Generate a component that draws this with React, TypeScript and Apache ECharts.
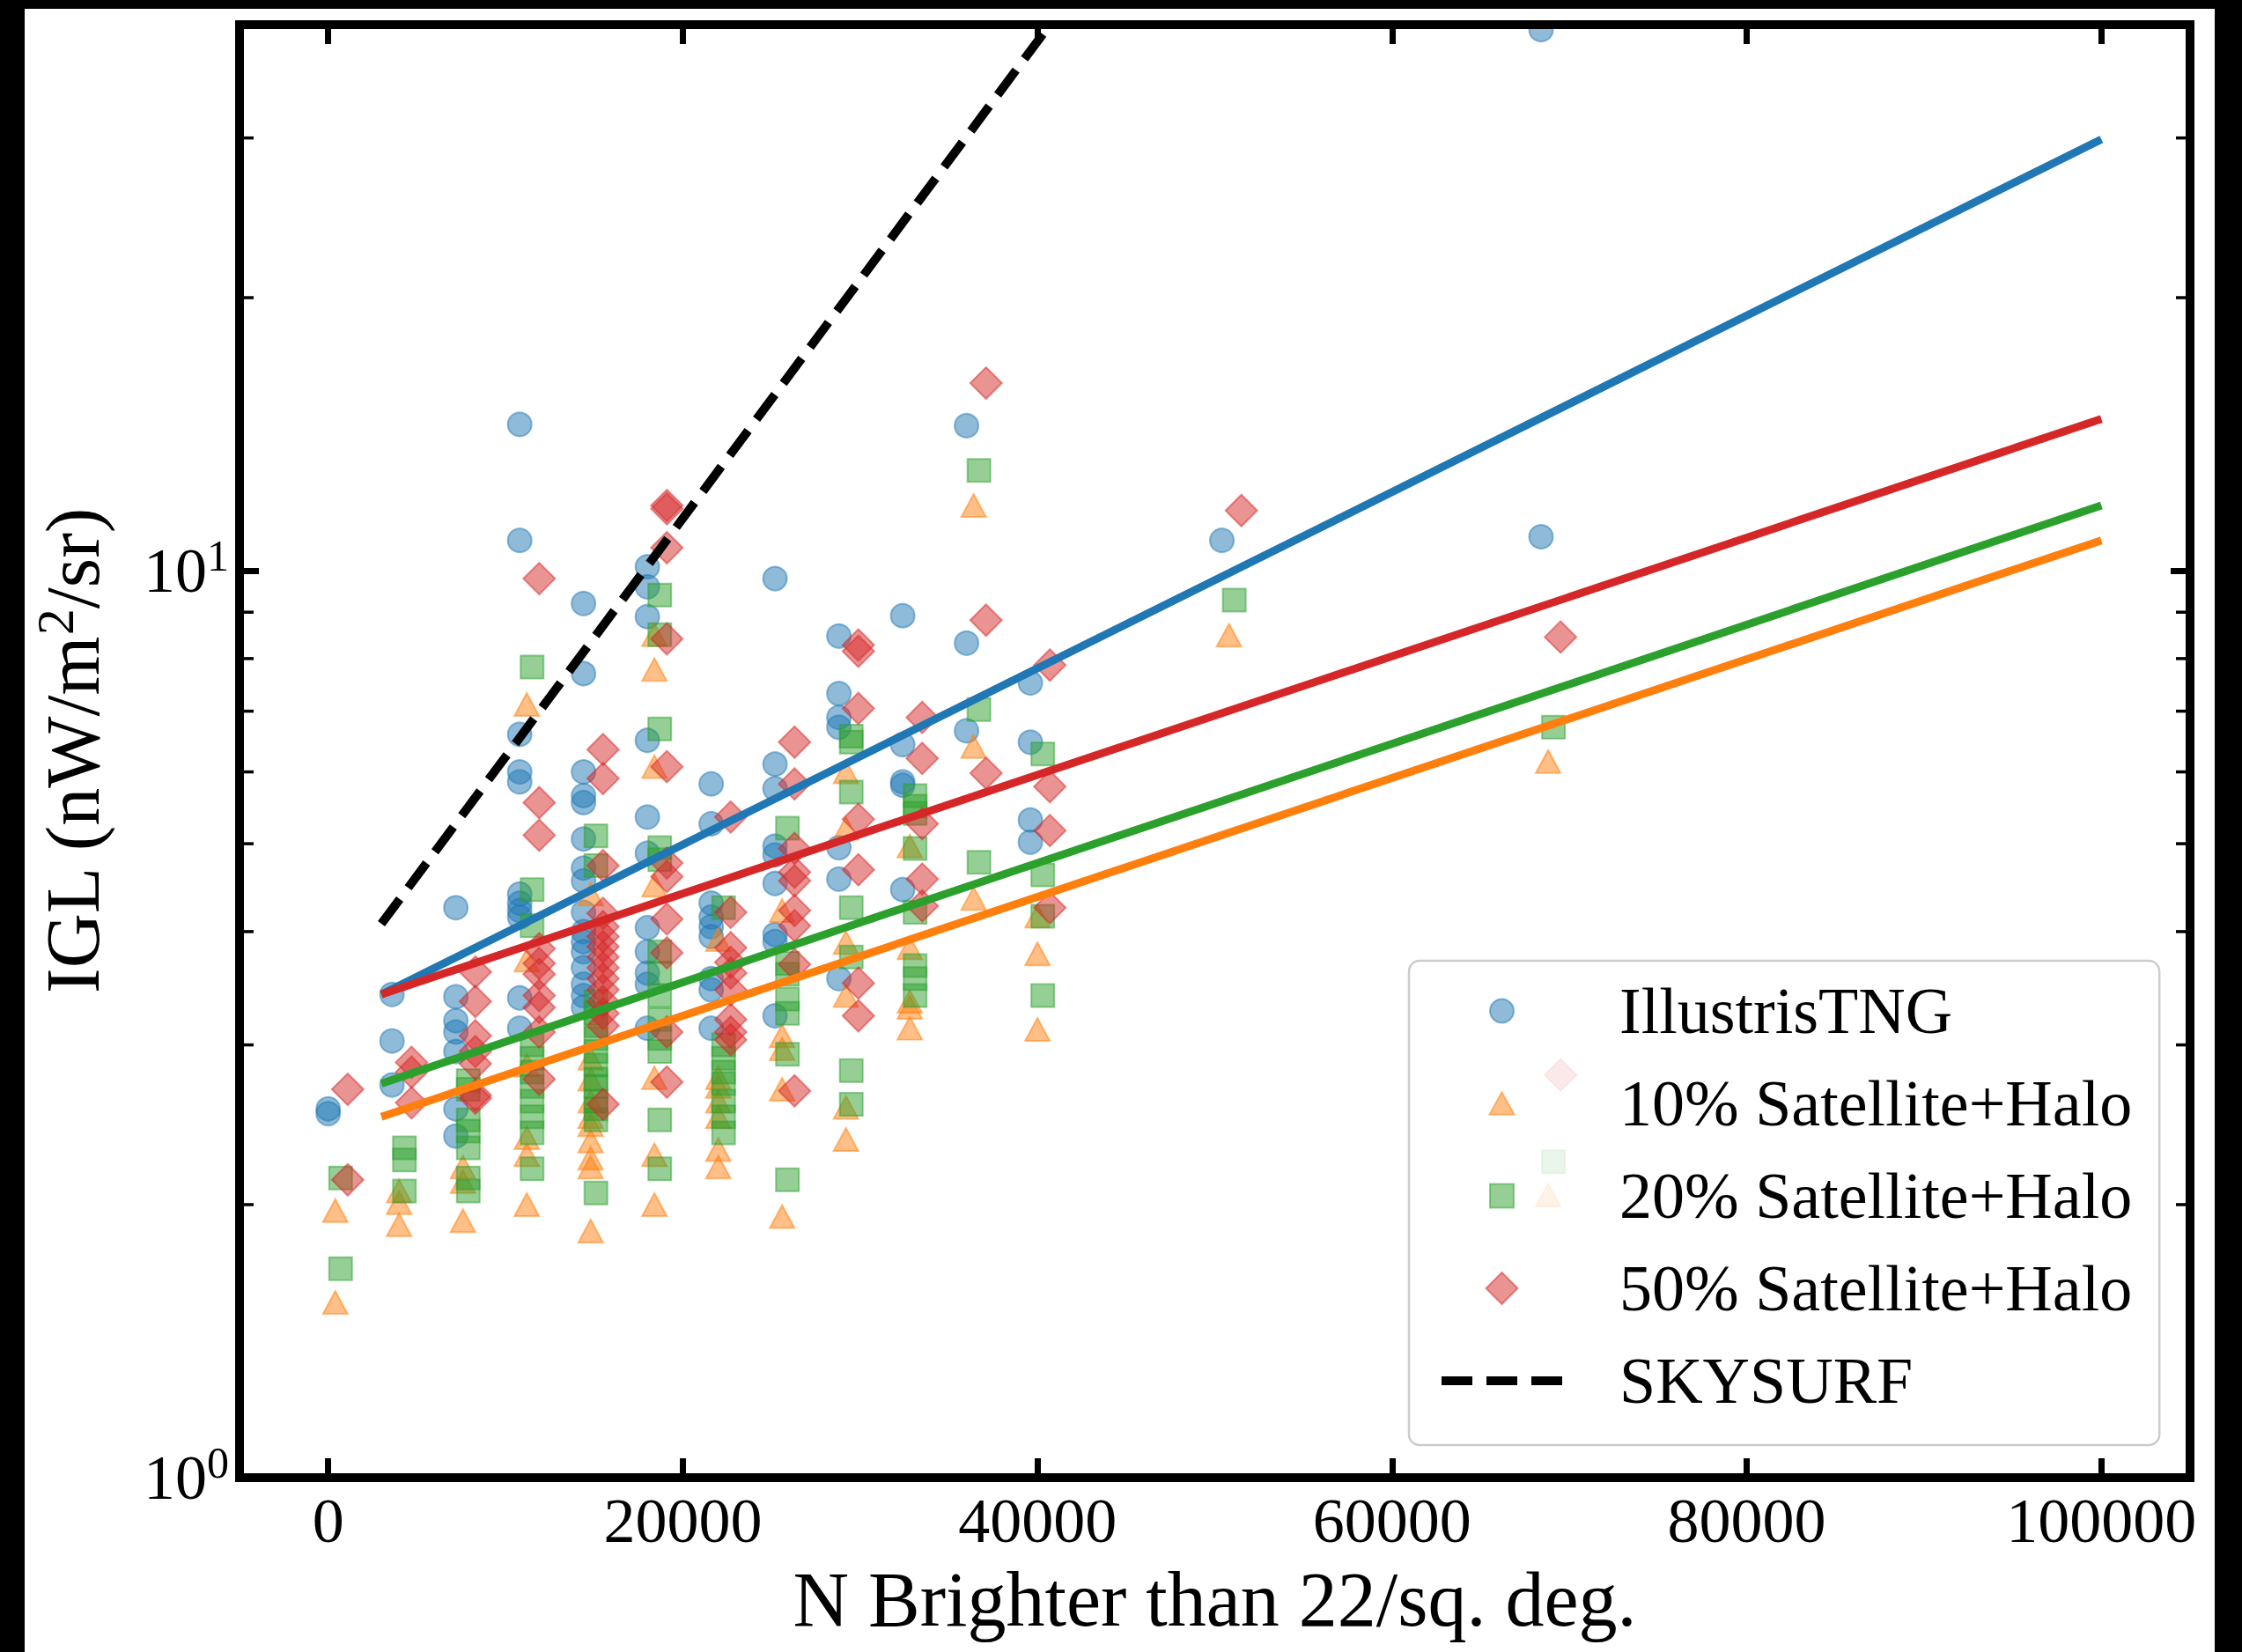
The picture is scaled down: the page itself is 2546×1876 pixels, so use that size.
import React, { useEffect, useRef } from 'react';
import * as echarts from 'echarts';

const FONT = "'Liberation Serif', 'Times New Roman', 'DejaVu Serif', serif";

// axis ranges and ticks
const xRange = [-5000, 105000];
const yRange = [1, 40];
const xTickStep = 20000;
const yMinorTicks = [2, 3, 4, 5, 6, 7, 8, 9, 20, 30];

const legendNames = ['IllustrisTNG', '10% Satellite+Halo', '20% Satellite+Halo', '50% Satellite+Halo', 'SKYSURF'];

// scatter data [N per sq. deg., IGL]
const illustrisTNG = [
  [0, 2.55], [0, 2.52],
  [3600, 3.41], [3600, 3.03], [3600, 2.71],
  [7200, 4.25], [7200, 3.39], [7200, 3.19], [7200, 3.1], [7200, 2.95], [7200, 2.55], [7200, 2.38],
  [10800, 14.5], [10800, 10.8], [10800, 6.6], [10800, 6.0], [10800, 5.85], [10800, 4.4], [10800, 4.3], [10800, 4.22], [10800, 4.15], [10800, 3.38], [10800, 3.13],
  [14400, 9.2], [14400, 7.7], [14400, 6.0], [14400, 5.65], [14400, 5.55], [14400, 5.06], [14400, 4.7], [14400, 4.55], [14400, 4.2], [14400, 4.0], [14400, 3.9], [14400, 3.8], [14400, 3.65], [14400, 3.5], [14400, 3.4], [14400, 3.3],
  [18000, 10.1], [18000, 9.6], [18000, 8.9], [18000, 6.5], [18000, 5.35], [18000, 4.88], [18000, 4.04], [18000, 3.8], [18000, 3.6], [18000, 3.5], [18000, 3.13],
  [21600, 5.82], [21600, 5.26], [21600, 4.3], [21600, 4.15], [21600, 4.05], [21600, 3.95], [21600, 3.55], [21600, 3.45], [21600, 3.13],
  [25200, 9.8], [25200, 6.12], [25200, 5.75], [25200, 4.97], [25200, 4.86], [25200, 4.52], [25200, 3.97], [25200, 3.9], [25200, 3.23],
  [28800, 8.47], [28800, 7.32], [28800, 6.89], [28800, 6.72], [28800, 4.95], [28800, 4.57], [28800, 3.55],
  [32400, 8.92], [32400, 6.43], [32400, 5.85], [32400, 5.8], [32400, 4.45],
  [36000, 14.45], [36000, 8.32], [36000, 6.66],
  [39600, 7.52], [39600, 6.47], [39600, 5.31], [39600, 5.02],
  [50400, 10.8],
  [68400, 10.9], [68400, 39.5],
];

const sat10 = [
  [400, 1.97], [400, 1.56],
  [4000, 2.07], [4000, 2.01], [4000, 1.9],
  [7600, 2.2], [7600, 2.12], [7600, 1.92],
  [11200, 7.12], [11200, 3.72], [11200, 2.85], [11200, 2.37], [11200, 2.27], [11200, 2.0],
  [14800, 4.4], [14800, 2.9], [14800, 2.75], [14800, 2.6], [14800, 2.5], [14800, 2.45], [14800, 2.35], [14800, 2.25], [14800, 2.2], [14800, 1.87],
  [18400, 8.5], [18400, 7.78], [18400, 6.08], [18400, 4.5], [18400, 2.76], [18400, 2.27], [18400, 2.0],
  [22000, 3.92], [22000, 2.76], [22000, 2.7], [22000, 2.6], [22000, 2.5], [22000, 2.3], [22000, 2.2],
  [25600, 4.22], [25600, 3.07], [25600, 2.97], [25600, 2.68], [25600, 1.94],
  [29200, 6.0], [29200, 5.2], [29200, 3.89], [29200, 3.4], [29200, 2.56], [29200, 2.36],
  [32800, 4.97], [32800, 3.84], [32800, 3.35], [32800, 3.3], [32800, 3.13],
  [36400, 11.8], [36400, 6.4], [36400, 4.35],
  [40000, 4.16], [40000, 3.78], [40000, 3.12],
  [50800, 8.49],
  [68800, 6.16], [68800, 2.05],
];

const sat20 = [
  [700, 2.14], [700, 1.7],
  [4300, 2.31], [4300, 2.24], [4300, 2.07],
  [7900, 2.74], [7900, 2.68], [7900, 2.48], [7900, 2.41], [7900, 2.31], [7900, 2.14], [7900, 2.07],
  [11500, 7.83], [11500, 4.45], [11500, 4.06], [11500, 3.0], [11500, 2.9], [11500, 2.8], [11500, 2.7], [11500, 2.6], [11500, 2.5], [11500, 2.4], [11500, 2.19],
  [15100, 5.1], [15100, 4.73], [15100, 3.35], [15100, 3.25], [15100, 3.15], [15100, 3.05], [15100, 2.95], [15100, 2.85], [15100, 2.75], [15100, 2.7], [15100, 2.6], [15100, 2.55], [15100, 2.48], [15100, 2.06],
  [18700, 9.4], [18700, 8.5], [18700, 6.69], [18700, 4.95], [18700, 4.8], [18700, 3.8], [18700, 3.6], [18700, 3.4], [18700, 3.2], [18700, 3.05], [18700, 2.95], [18700, 2.48], [18700, 2.19],
  [22300, 4.25], [22300, 3.0], [22300, 2.9], [22300, 2.8], [22300, 2.72], [22300, 2.6], [22300, 2.5], [22300, 2.4],
  [25900, 5.2], [25900, 3.69], [25900, 3.59], [25900, 3.37], [25900, 3.25], [25900, 2.93], [25900, 2.13],
  [29500, 6.57], [29500, 6.47], [29500, 5.7], [29500, 4.25], [29500, 3.75], [29500, 2.81], [29500, 2.58],
  [33100, 5.65], [33100, 5.5], [33100, 5.4], [33100, 4.94], [33100, 4.2], [33100, 3.67], [33100, 3.55], [33100, 3.4],
  [36700, 12.9], [36700, 7.03], [36700, 4.77],
  [40300, 6.28], [40300, 4.62], [40300, 4.16], [40300, 3.4],
  [51100, 9.28],
  [69100, 6.72], [69100, 2.23],
];

const sat50 = [
  [1100, 2.68], [1100, 2.13],
  [4700, 2.87], [4700, 2.8], [4700, 2.59],
  [8300, 3.61], [8300, 3.35], [8300, 3.07], [8300, 2.95], [8300, 2.86], [8300, 2.64], [8300, 2.62],
  [11900, 9.8], [11900, 5.55], [11900, 5.11], [11900, 3.83], [11900, 3.69], [11900, 3.59], [11900, 3.4], [11900, 3.3], [11900, 3.1], [11900, 2.75],
  [15500, 6.35], [15500, 5.9], [15500, 4.73], [15500, 4.19], [15500, 4.05], [15500, 3.95], [15500, 3.85], [15500, 3.75], [15500, 3.65], [15500, 3.55], [15500, 3.45], [15500, 3.35], [15500, 3.25], [15500, 3.15], [15500, 2.58],
  [19100, 11.8], [19100, 11.7], [19100, 10.6], [19100, 8.41], [19100, 6.08], [19100, 4.76], [19100, 4.6], [19100, 4.13], [19100, 3.79], [19100, 3.1], [19100, 2.73],
  [22700, 5.35], [22700, 4.2], [22700, 3.84], [22700, 3.7], [22700, 3.6], [22700, 3.45], [22700, 3.2], [22700, 3.1], [22700, 3.04],
  [26300, 6.47], [26300, 5.82], [26300, 4.94], [26300, 4.65], [26300, 4.55], [26300, 4.22], [26300, 4.06], [26300, 3.68], [26300, 2.67],
  [29900, 8.28], [29900, 8.15], [29900, 7.05], [29900, 5.32], [29900, 4.68], [29900, 3.51], [29900, 3.23],
  [33500, 6.89], [33500, 6.21], [33500, 5.26], [33500, 4.57], [33500, 4.27],
  [37100, 16.1], [37100, 8.82], [37100, 5.98],
  [40700, 7.87], [40700, 5.78], [40700, 5.17], [40700, 4.25],
  [51500, 11.65],
  [69500, 8.45], [69500, 2.78],
];

// exponential fits (straight in log-y), endpoints
const fitX = [3000, 100000];
const fitTNG = [3.41, 29.9];
const fit10 = [2.5, 10.8];
const fit20 = [2.72, 11.8];
const fit50 = [3.41, 14.7];
// SKYSURF relation
const skysurfX = [3000, 40700];
const skysurfY = [4.08, 40];

const COLORS = {
  blue: [31, 119, 180],
  orange: [255, 127, 14],
  green: [44, 160, 44],
  red: [214, 39, 40],
};
const rgba = (c: number[], a: number) => `rgba(${c[0]},${c[1]},${c[2]},${a})`;

const pairs = (xs: number[], ys: number[]) => xs.map((x, i) => [x, ys[i]]);

// legend icons (padded paths so that sizes differ like the original)
const ICON_CIRCLE = 'path://M0,0M28,28M3.5,14A10.5,10.5,0,1,1,24.5,14A10.5,10.5,0,1,1,3.5,14Z';
const ICON_TRIANGLE = 'path://M0,0M28,28M14,4L25,24L3,24Z';
const ICON_SQUARE = 'path://M0,0M28,28M3.5,3.5L24.5,3.5L24.5,24.5L3.5,24.5Z';
const ICON_DIAMOND = 'path://M14,0L28,14L14,28L0,14Z';

export default function App() {
  const ref = useRef<HTMLDivElement>(null);
  useEffect(() => {
    if (!ref.current) return;
    const chart = echarts.init(ref.current, null, { renderer: 'svg' });

    const GL = 272, GT = 28, GW = 2215, GH = 1650;
    const majorTick = { show: true, inside: true, length: 22, lineStyle: { color: '#000', width: 7 } };

    const scatter = (name: string, data: number[][], symbol: string, size: any, c: number[], clip = true) => ({
      type: 'scatter',
      name,
      data,
      symbol,
      symbolSize: size,
      clip,
      itemStyle: { color: rgba(c, 0.5), borderColor: rgba(c, 0.5), borderWidth: 2, opacity: 1 },
      z: 2,
      silent: true,
    });
    const fit = (name: string, ys: number[], c: number[]) => ({
      type: 'line',
      name,
      data: pairs(fitX, ys),
      symbol: 'none',
      showSymbol: false,
      lineStyle: { color: rgba(c, 1), width: 9 },
      itemStyle: { color: rgba(c, 1) },
      z: 3,
      silent: true,
    });

    const supRich = {
      b: { fontFamily: FONT, fontSize: 72, lineHeight: 84, color: '#000' },
      sup: { fontFamily: FONT, fontSize: 50, lineHeight: 64, verticalAlign: 'top', color: '#000' },
    };

    const option: any = {
      animation: false,
      backgroundColor: '#ffffff',
      grid: { left: GL, top: GT, width: GW, height: GH, containLabel: false },
      legend: {
        show: true,
        orient: 'vertical',
        left: 1600,
        top: 1091,
        data: [
          { name: legendNames[0], icon: ICON_CIRCLE },
          { name: legendNames[1], icon: ICON_TRIANGLE },
          { name: legendNames[2], icon: ICON_SQUARE },
          { name: legendNames[3], icon: ICON_DIAMOND },
          { name: legendNames[4], itemStyle: { color: 'rgba(0,0,0,0)', borderColor: 'rgba(0,0,0,0)', borderWidth: 0 } },
        ],
        itemWidth: 137,
        itemHeight: 36,
        itemGap: 25,
        symbolKeepAspect: true,
        padding: [17, 31, 33, 32],
        backgroundColor: 'rgba(255,255,255,0.8)',
        borderColor: '#cccccc',
        borderWidth: 2.5,
        borderRadius: 12,
        selectedMode: false,
        lineStyle: { width: 10 },
        textStyle: { fontFamily: FONT, fontSize: 74, lineHeight: 80, color: '#000', padding: [0, 0, 0, 60] },
      },
      xAxis: [
        {
          type: 'value',
          min: xRange[0],
          max: xRange[1],
          position: 'bottom',
          axisLine: { show: false, onZero: false },
          axisTick: majorTick,
          splitLine: { show: false },
          axisLabel: {
            color: '#000',
            fontFamily: FONT,
            fontSize: 72,
            lineHeight: 72,
            margin: 13,
            formatter: (v: number) => (Math.abs(v % xTickStep) < 1e-6 ? String(Math.round(v)) : ''),
          },
          name: 'N Brighter than 22/sq. deg.',
          nameLocation: 'middle',
          nameGap: 94,
          nameTextStyle: { fontFamily: FONT, fontSize: 88, lineHeight: 88, color: '#000' },
        },
        {
          type: 'value',
          min: xRange[0],
          max: xRange[1],
          position: 'top',
          axisLine: { show: false, onZero: false },
          axisTick: majorTick,
          axisLabel: { show: false },
          splitLine: { show: false },
        },
      ],
      yAxis: [
        {
          type: 'log',
          logBase: 10,
          min: yRange[0],
          max: yRange[1],
          position: 'left',
          axisLine: { show: false, onZero: false },
          axisTick: majorTick,
          splitLine: { show: false },
          axisLabel: {
            margin: 12,
            formatter: (v: number) => {
              const e = Math.log10(v);
              const r = Math.round(e);
              if (Math.abs(e - r) > 1e-6) return '';
              return `{b|10}{sup|${r}}`;
            },
            rich: supRich,
          },
          name: '{b|IGL (nW/m}{sup|2}{b|/sr)}',
          nameLocation: 'middle',
          nameGap: 139,
          nameRotate: 90,
          nameTextStyle: {
            rich: {
              b: { fontFamily: FONT, fontSize: 86, lineHeight: 100, color: '#000' },
              sup: { fontFamily: FONT, fontSize: 60, lineHeight: 80, verticalAlign: 'top', color: '#000' },
            },
          },
        },
        {
          type: 'log',
          logBase: 10,
          min: yRange[0],
          max: yRange[1],
          position: 'right',
          axisLine: { show: false, onZero: false },
          axisTick: majorTick,
          axisLabel: { show: false },
          splitLine: { show: false },
        },
      ],
      series: [
        scatter(legendNames[0], illustrisTNG, 'circle', 27, COLORS.blue, false),
        scatter(legendNames[1], sat10, 'triangle', [28, 26], COLORS.orange),
        scatter(legendNames[2], sat20, 'rect', 26, COLORS.green),
        scatter(legendNames[3], sat50, 'diamond', 36, COLORS.red),
        fit('fit TNG', fitTNG, COLORS.blue),
        fit('fit 10%', fit10, COLORS.orange),
        fit('fit 20%', fit20, COLORS.green),
        fit('fit 50%', fit50, COLORS.red),
        {
          type: 'line',
          name: legendNames[4],
          data: pairs(skysurfX, skysurfY),
          symbol: 'none',
          showSymbol: false,
          lineStyle: { color: '#000', width: 10, type: [35, 16] },
          itemStyle: { color: '#000' },
          z: 4,
          silent: true,
        },
        {
          type: 'custom',
          name: 'minor ticks',
          coordinateSystem: 'cartesian2d',
          xAxisIndex: 0,
          yAxisIndex: 0,
          data: yMinorTicks.map((v) => [0, v]),
          silent: true,
          clip: false,
          z: 5,
          renderItem: (params: any, api: any) => {
            const cs = params.coordSys;
            const y = api.coord([0, api.value(1)])[1];
            const style = { stroke: '#000', lineWidth: 3.5 };
            return {
              type: 'group',
              children: [
                { type: 'line', shape: { x1: cs.x, y1: y, x2: cs.x + 16, y2: y }, style },
                { type: 'line', shape: { x1: cs.x + cs.width - 16, y1: y, x2: cs.x + cs.width, y2: y }, style },
              ],
            };
          },
        },
      ],
      graphic: [
        // white band above the top spine (clips markers like the original axes clip)
        { type: 'rect', z: 99, silent: true, shape: { x: 28, y: 0, width: 2487, height: GT - 4 }, style: { fill: '#fff' } },
        {
          type: 'rect',
          z: 100,
          silent: true,
          shape: { x: GL, y: GT, width: GW, height: GH },
          style: { fill: 'none', stroke: '#000', lineWidth: 10 },
        },
        { type: 'rect', z: 101, silent: true, shape: { x: 0, y: 0, width: 28, height: 1876 }, style: { fill: '#000' } },
        { type: 'rect', z: 101, silent: true, shape: { x: 0, y: 0, width: 2546, height: 10 }, style: { fill: '#000' } },
        { type: 'rect', z: 101, silent: true, shape: { x: 2515, y: 0, width: 31, height: 1876 }, style: { fill: '#000' } },
      ],
    };

    chart.setOption(option);
    return () => chart.dispose();
  }, []);

  return (
    <div
      ref={ref}
      style={{ position: 'absolute', left: 0, top: 0, width: 2546, height: 1876, background: '#fff' }}
    />
  );
}
